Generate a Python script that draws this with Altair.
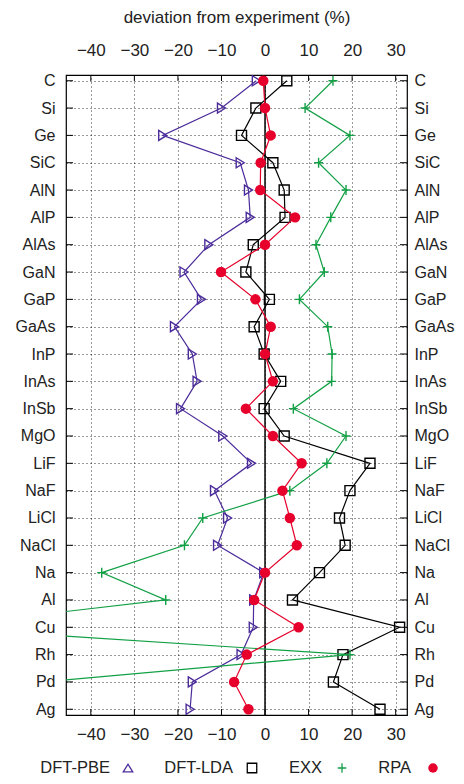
import altair as alt
import pandas as pd

categories = ["C", "Si", "Ge", "SiC", "AlN", "AlP", "AlAs", "GaN", "GaP", "GaAs",
              "InP", "InAs", "InSb", "MgO", "LiF", "NaF", "LiCl", "NaCl", "Na",
              "Al", "Cu", "Rh", "Pd", "Ag"]
pbe = [-2.0, -10.0, -23.5, -5.7, -3.8, -3.4, -12.9, -18.6, -14.6, -20.8, -16.7, -15.6,
       -19.4, -9.7, -3.1, -11.6, -8.6, -10.9, -0.3, -2.6, -2.7, -5.5, -16.7, -17.2]
lda = [5.0, -2.1, -5.4, 1.8, 4.4, 4.6, -2.7, -4.4, 1.0, -2.5, -0.2, 3.6,
       -0.2, 4.4, 24.1, 19.5, 17.1, 18.4, 12.5, 6.3, 30.9, 17.9, 15.7, 26.4]
exx = [15.6, 9.2, 19.5, 12.3, 18.6, 15.1, 11.7, 13.6, 7.9, 14.4, 15.4, 15.3,
       6.5, 18.6, 14.2, 5.7, -14.3, -18.5, -37.5, -22.8, -77.0, 19.5, -51.0, None]
rpa = [-0.4, 0.0, 1.3, -1.0, -1.1, 6.9, 0.0, -10.1, -2.2, 1.3, 0.0, 1.8,
       -4.4, 1.8, 8.4, 4.0, 5.7, 7.3, 0.0, -2.5, 7.7, -4.2, -7.1, -3.8]
x_ticks = [-40, -30, -20, -10, 0, 10, 20, 30]
series_names = ["DFT-PBE", "DFT-LDA", "EXX", "RPA"]
series_values = [pbe, lda, exx, rpa]

FONT = "Liberation Sans"
colors = {"DFT-PBE": "#4b2c9a", "DFT-LDA": "#000000", "EXX": "#12a045", "RPA": "#e6002b"}
shapes = {"DFT-PBE": "M-0.8,-1L0.8,0L-0.8,1Z",
          "DFT-LDA": "square",
          "EXX": "M-0.9,0L0.9,0M0,-1L0,1",
          "RPA": "circle"}
legend_shapes = {"DFT-PBE": "M-1,0.8L0,-0.8L1,0.8Z",
                 "DFT-LDA": "square",
                 "EXX": "M-0.9,0L0.9,0M0,-1L0,1",
                 "RPA": "circle"}

rows = []
for name, vals in zip(series_names, series_values):
    for i, (c, v) in enumerate(zip(categories, vals)):
        if v is not None:
            rows.append({"series": name, "cat": c, "idx": i, "value": v})
df = pd.DataFrame(rows)

W, H = 341, 640
xs = alt.Scale(domain=[-45.7, 32.6], nice=False, zero=False)
ys = alt.Scale(domain=categories, type="point", padding=0.21)

# axes carriers
ax_bl = alt.Chart(df).mark_point(opacity=0).encode(
    x=alt.X("value:Q", scale=xs, axis=alt.Axis(orient="bottom", values=x_ticks, title=None,
                                                grid=True, labelPadding=11)),
    y=alt.Y("cat:N", scale=ys, sort=categories,
            axis=alt.Axis(orient="left", title=None, grid=True, labelPadding=11,
                          labelFontSize=16)),
)
ax_tr = alt.Chart(df).mark_point(opacity=0).encode(
    x=alt.X("value:Q", scale=xs, axis=alt.Axis(orient="top", values=x_ticks,
                                                title="deviation from experiment (%)",
                                                grid=False, labelPadding=16, titlePadding=15)),
    y=alt.Y("cat:N", scale=ys, sort=categories,
            axis=alt.Axis(orient="right", title=None, grid=False, labelPadding=7,
                          labelFontSize=16)),
)

zero = alt.Chart(pd.DataFrame({"v": [0]})).mark_rule(color="black", strokeWidth=1.5).encode(
    x=alt.X("v:Q", scale=xs, axis=None))

ydf = pd.DataFrame({"cat": categories})
xdf = pd.DataFrame({"t": x_ticks})
ticks = [
    alt.Chart(ydf).mark_rule(color="black", strokeWidth=1).encode(
        y=alt.Y("cat:N", scale=ys, axis=None), x=alt.value(0), x2=alt.value(7)),
    alt.Chart(ydf).mark_rule(color="black", strokeWidth=1).encode(
        y=alt.Y("cat:N", scale=ys, axis=None), x=alt.value(W - 7), x2=alt.value(W)),
    alt.Chart(xdf).mark_rule(color="black", strokeWidth=1).encode(
        x=alt.X("t:Q", scale=xs, axis=None), y=alt.value(0), y2=alt.value(6)),
    alt.Chart(xdf).mark_rule(color="black", strokeWidth=1).encode(
        x=alt.X("t:Q", scale=xs, axis=None), y=alt.value(H - 6), y2=alt.value(H)),
]

layers = [ax_bl, ax_tr, zero] + ticks
for name in series_names:
    sub = alt.Chart(df[df.series == name])
    line = sub.mark_line(color=colors[name], strokeWidth=1.2, clip=True).encode(
        x=alt.X("value:Q", scale=xs, axis=None),
        y=alt.Y("cat:N", scale=ys, axis=None),
        order=alt.Order("idx:Q"))
    filled = name == "RPA"
    pts = sub.mark_point(shape=shapes[name], size=100 if not filled else 110,
                         filled=filled, color=colors[name], opacity=1,
                         strokeWidth=1.4, clip=True).encode(
        x=alt.X("value:Q", scale=xs, axis=None),
        y=alt.Y("cat:N", scale=ys, axis=None))
    layers += [line, pts]

# manual legend (label then symbol)
legend_text_x = [44, 167, 256, 345]
legend_sym_x = [62, 186, 276, 367]
LEG_Y = 693
one = pd.DataFrame({"a": [0]})
for name, tx, sx in zip(series_names, legend_text_x, legend_sym_x):
    layers.append(alt.Chart(one).mark_text(text=name, align="right", baseline="middle",
                                           font=FONT, fontSize=16.5, color="#222").encode(
        x=alt.value(tx), y=alt.value(LEG_Y)))
    filled = name == "RPA"
    layers.append(alt.Chart(one).mark_point(shape=legend_shapes[name], size=90,
                                            filled=filled, color=colors[name], opacity=1,
                                            strokeWidth=1.3).encode(
        x=alt.value(sx), y=alt.value(LEG_Y)))

chart = alt.layer(*layers).resolve_axis(x="independent", y="independent").properties(
    width=W, height=H,
    autosize=alt.AutoSizeParams(type="none"),
    padding={"left": 58, "top": 67, "right": 49, "bottom": 61},
).configure(background="white").configure_view(stroke="black", strokeWidth=1.2).configure_axis(
    labelFont=FONT, labelFontSize=17, labelColor="#222",
    titleFont=FONT, titleFontSize=17, titleFontWeight="normal", titleColor="#222",
    domain=False, ticks=False, tickSize=0,
    gridColor="#000", gridDash=[1, 3], gridWidth=0.9, gridOpacity=0.9,
)

chart.save("out.html", embed_options={"renderer": "svg", "actions": False})
